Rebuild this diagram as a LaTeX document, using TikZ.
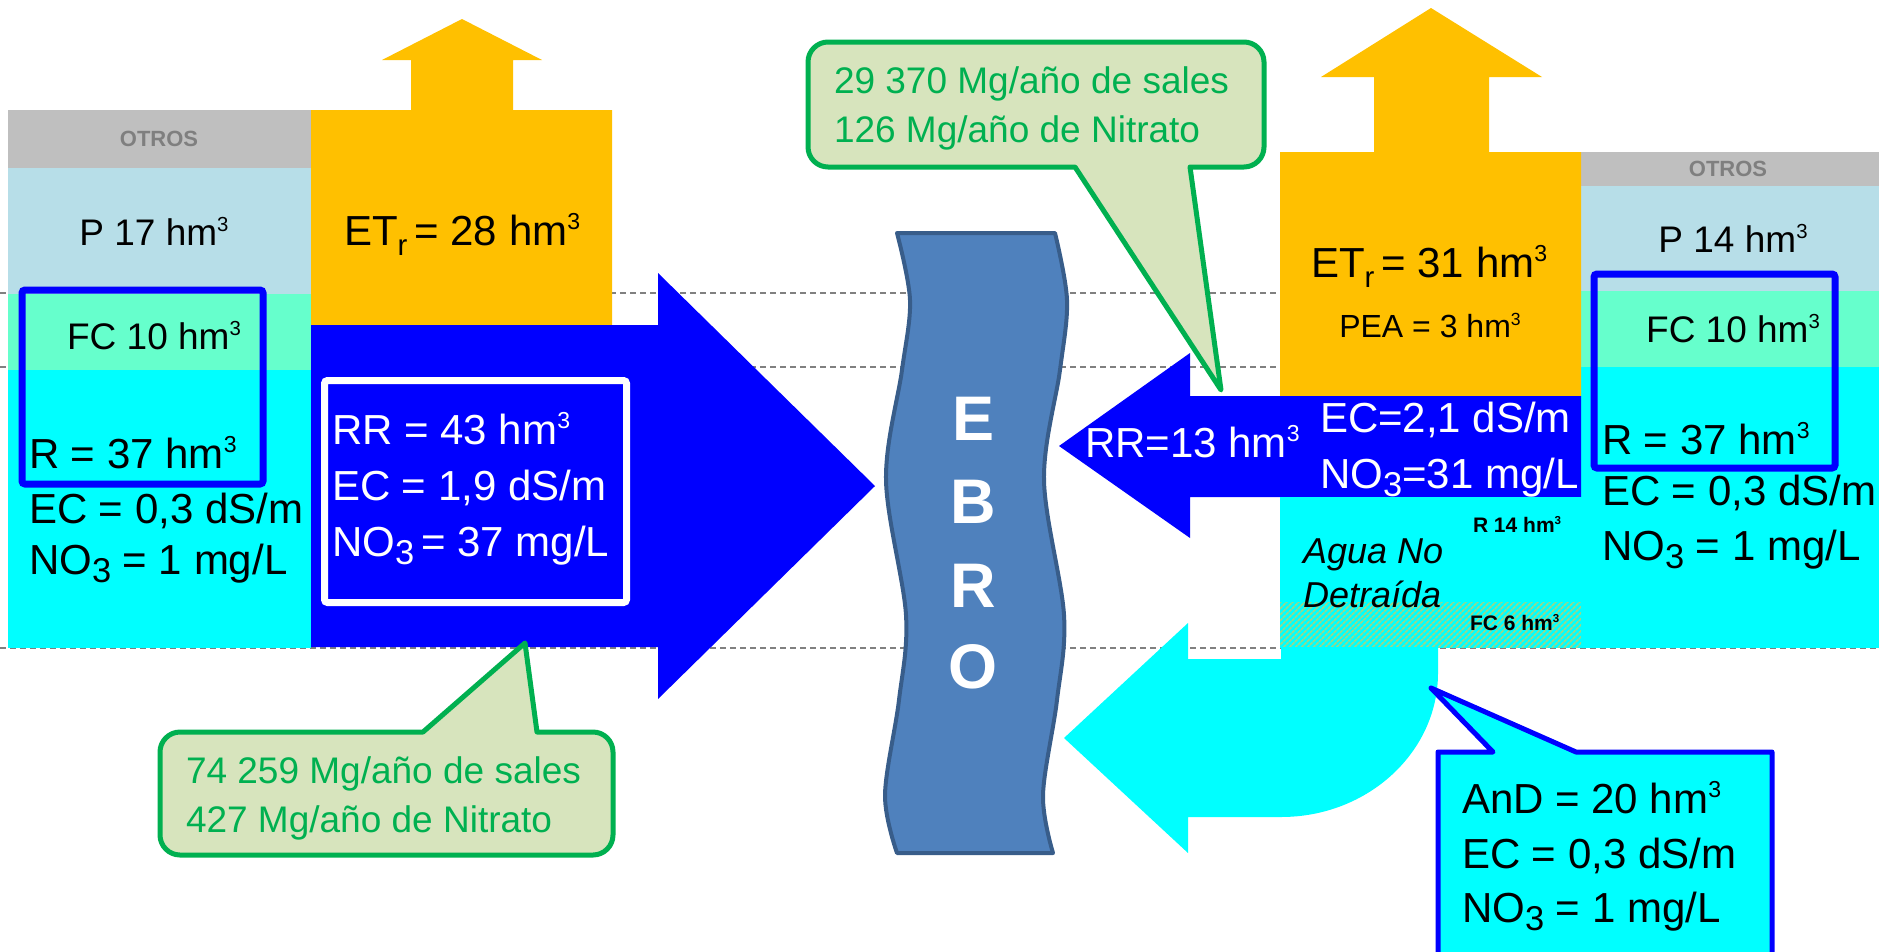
\documentclass[tikz,border=0pt]{standalone}
\usepackage{fontspec}
\setmainfont{Liberation Sans}
\usetikzlibrary{patterns.meta}

\definecolor{otrosfill}{HTML}{BFBFBF}
\definecolor{otrostext}{HTML}{7F7F7F}
\definecolor{rainfill}{HTML}{B7DEE8}
\definecolor{fcfill}{HTML}{66FFCC}
\definecolor{aqua}{HTML}{00FFFF}
\definecolor{etfill}{HTML}{FFC000}
\definecolor{flowblue}{HTML}{0000FF}
\definecolor{riverfill}{HTML}{4F81BD}
\definecolor{riverline}{HTML}{385D8A}
\definecolor{notefill}{HTML}{D7E4BD}
\definecolor{notegreen}{HTML}{00B050}
\definecolor{levelgray}{HTML}{808080}
\definecolor{hatchgreen}{RGB}{150,218,140}

% hm^3 exponent, chemical subscript, ET subscript
\newcommand{\cub}{\raisebox{0.36em}{\scalebox{0.55}{3}}}
\newcommand{\sbt}[1]{\raisebox{-0.2em}{\scalebox{0.82}{#1}}}
\newcommand{\sbr}[1]{\raisebox{-0.24em}{\scalebox{0.7}{#1}}}

\begin{document}
\begin{tikzpicture}[x=1pt,y=-1pt,
  txt/.style={inner sep=0pt, outer sep=0pt},
  txtL/.style={txt, font=\fontsize{42}{50}\selectfont},
  txtM/.style={txt, font=\fontsize{37}{44}\selectfont},
  txtS/.style={txt, font=\fontsize{32}{38}\selectfont},
  txtB/.style={txt, font=\fontsize{21}{25}\selectfont\bfseries},
  txtI/.style={txt, font=\fontsize{36}{43}\selectfont\itshape},
  otroslbl/.style={txt, font=\fontsize{22}{26}\selectfont\bfseries, text=otrostext},
  notetxt/.style={txt, font=\fontsize{37}{44}\selectfont, text=notegreen},
  rivertxt/.style={txt, font=\fontsize{63}{70}\selectfont\bfseries, text=white},
  levelline/.style={levelgray, line width=1.5pt, dash pattern=on 6pt off 4pt},
  framebox/.style={draw=flowblue, line width=7pt, rounded corners=3pt},
  note/.style={draw=notegreen, fill=notefill, line width=5pt, line join=round},
  river/.style={draw=riverline, fill=riverfill, line width=4pt, line join=round},
]
\useasboundingbox (0,0) rectangle (1879,951);
\clip (0,0) rectangle (1879,951);

% level lines
\coordinate (l1w) at (0,293);   \coordinate (l1e) at (1879,293);
\coordinate (l2w) at (0,367);   \coordinate (l2e) at (1879,367);
\coordinate (l3w) at (0,648);   \coordinate (l3e) at (1879,648);
\draw[levelline] (l1w) -- (l1e);
\draw[levelline] (l2w) -- (l2e);
\draw[levelline] (l3w) -- (l3e);

% left soil column
\fill[otrosfill] (8,110) rectangle (311,168);
\fill[rainfill]  (8,168) rectangle (311,294);
\fill[fcfill]    (8,294) rectangle (311,370);
\fill[aqua]      (8,370) rectangle (311,648);

% right soil column
\fill[otrosfill] (1581,152) rectangle (1879,186);
\fill[rainfill]  (1581,186) rectangle (1879,291);
\fill[fcfill]    (1581,291) rectangle (1879,367);
\fill[aqua]      (1581,367) rectangle (1879,648);

% evapotranspiration blocks with upward arrows
\fill[etfill] (311,325) -- (311,110) -- (411,110) -- (411,60) -- (382,60) -- (462,19)
  -- (542,60) -- (513,60) -- (513,110) -- (612,110) -- (612,325) -- cycle;
\fill[etfill] (1280,396) -- (1280,152) -- (1374,152) -- (1374,77) -- (1321,77) -- (1431,8)
  -- (1542,77) -- (1489,77) -- (1489,152) -- (1581,152) -- (1581,396) -- cycle;

% return flow arrows
\fill[flowblue] (311,325) -- (658,325) -- (658,273) -- (875,486) -- (658,699)
  -- (658,647) -- (311,647) -- cycle;
\fill[flowblue] (1581,396) -- (1190,396) -- (1190,353) -- (1059,446) -- (1190,538)
  -- (1190,497) -- (1581,497) -- cycle;

% non-diverted water and its bent arrow
\fill[aqua] (1280,497) rectangle (1581,648);
\fill[pattern={Lines[angle=45,distance=4pt,line width=1.9pt]}, pattern color=hatchgreen]
  (1280,602) rectangle (1581,647);
\fill[aqua] (1281,647) -- (1281,659) -- (1188,659) -- (1188,623) -- (1064,738)
  -- (1188,853) -- (1188,817) -- (1281,817)
  .. controls (1368,817) and (1438,752) .. (1438,673) -- (1438,647) -- cycle;

% river
\draw[river] plot[smooth, tension=0.55] coordinates {(897,233) (910,300) (902,370) (886,480)
    (906,615) (899,700) (885,795) (897,853)}
  -- plot[smooth, tension=0.55] coordinates {(1053,853) (1043,795) (1057,700) (1064,615)
    (1044,480) (1060,370) (1067,300) (1055,233)} -- cycle;
\node[rivertxt, anchor=base] (rivE) at (973,440) {E};
\node[rivertxt, anchor=base] (rivB) at (973,523) {B};
\node[rivertxt, anchor=base] (rivR) at (973,607) {R};
\node[rivertxt, anchor=base] (rivO) at (973,688) {O};

% frames
\draw[framebox] (22,290) rectangle (263,484);
\draw[framebox] (1594,274) rectangle (1835,468);
\draw[framebox, draw=white] (324.5,380.5) rectangle (626.5,602.5);

% load callouts
\draw[note] (808,62) .. controls (808,51) and (817,42) .. (828,42)
  -- (1244,42) .. controls (1255,42) and (1264,51) .. (1264,62)
  -- (1264,147) .. controls (1264,158) and (1255,167) .. (1244,167)
  -- (1190,167) -- (1221,390) -- (1075,167)
  -- (828,167) .. controls (817,167) and (808,158) .. (808,147) -- cycle;
\draw[note] (160,752) .. controls (160,741) and (169,732) .. (180,732)
  -- (423,732) -- (525,643) -- (537,732)
  -- (593,732) .. controls (604,732) and (613,741) .. (613,752)
  -- (613,835) .. controls (613,846) and (604,855) .. (593,855)
  -- (180,855) .. controls (169,855) and (160,846) .. (160,835) -- cycle;
\draw[draw=flowblue, fill=aqua, line width=5pt, line join=round]
  (1438,990) -- (1438,752) -- (1493,752) -- (1431,688) -- (1576,752)
  -- (1772,752) -- (1772,990);

% left column labels
\node[otroslbl, anchor=base] (otrosL) at (159,146) {OTROS};
\node[txtM, anchor=base] (pL) at (154,245) {P 17 hm\cub};
\node[txtM, anchor=base] (fcL) at (154,349) {FC 10 hm\cub};
\node[txtL, anchor=base west] (rL) at (29,468) {R = 37 hm\cub};
\node[txtL, anchor=base west] (ecL) at (29,523) {EC = 0,3 dS/m};
\node[txtL, anchor=base west] (noL) at (29,574) {NO\sbt{3} = 1 mg/L};
\node[txtL, anchor=base west] (etL) at (344,245) {ET\sbr{r}\,= 28 hm\cub};
\node[txtL, anchor=base west, text=white] (rrL) at (332,444) {RR = 43 hm\cub};
\node[txtL, anchor=base west, text=white] (ecRR) at (332,500) {EC = 1,9 dS/m};
\node[txtL, anchor=base west, text=white] (noRR) at (332,556) {NO\sbt{3}\,= 37 mg/L};

% right column labels
\node[otroslbl, anchor=base] (otrosR) at (1728,176) {OTROS};
\node[txtM, anchor=base] (pR) at (1733,252) {P 14 hm\cub};
\node[txtM, anchor=base] (fcR) at (1733,342) {FC 10 hm\cub};
\node[txtL, anchor=base west] (rR) at (1602,454) {R = 37 hm\cub};
\node[txtL, anchor=base west] (ecR) at (1602,505) {EC = 0,3 dS/m};
\node[txtL, anchor=base west] (noR) at (1602,560) {NO\sbt{3} = 1 mg/L};
\node[txtL, anchor=base west] (etR) at (1311,277) {ET\sbr{r}\,= 31 hm\cub};
\node[txtS, anchor=base] (peaR) at (1430,337) {PEA = 3 hm\cub};
\node[txtL, anchor=base west, text=white] (rrR) at (1085,457) {RR=13 hm\cub};
\node[txtL, anchor=base west, text=white] (ecRRr) at (1320,432) {EC=2,1 dS/m};
\node[txtL, anchor=base west, text=white] (noRRr) at (1320,488) {NO\sbt{3}=31 mg/L};
\node[txtB, anchor=base west] (r14) at (1473,532) {R 14 hm\cub};
\node[txtB, anchor=base west] (fc6) at (1470,630) {FC 6 hm\cub};
\node[txtI, anchor=base west] (agua1) at (1303,563) {Agua No};
\node[txtI, anchor=base west] (agua2) at (1303,607) {Detraída};
\node[txtL, anchor=base west] (andR) at (1462,813) {AnD = 20 hm\cub};
\node[txtL, anchor=base west] (ecAnD) at (1462,868) {EC = 0,3 dS/m};
\node[txtL, anchor=base west] (noAnD) at (1462,922) {NO\sbt{3} = 1 mg/L};

% callout texts
\node[notetxt, anchor=base west] (saltR) at (834,93) {29 370 Mg/año de sales};
\node[notetxt, anchor=base west] (nitR) at (834,142) {126 Mg/año de Nitrato};
\node[notetxt, anchor=base west] (saltL) at (186,783) {74 259 Mg/año de sales};
\node[notetxt, anchor=base west] (nitL) at (186,832) {427 Mg/año de Nitrato};
\end{tikzpicture}
\end{document}
